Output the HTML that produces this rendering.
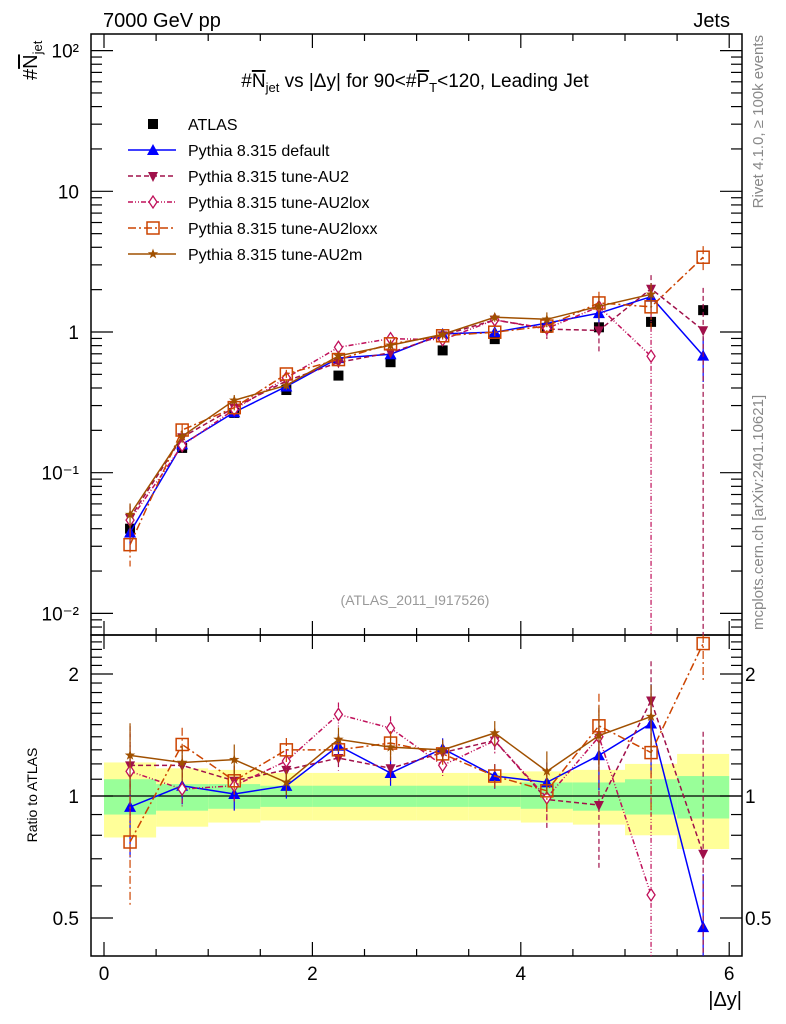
<!DOCTYPE html>
<html><head><meta charset="utf-8">
<style>
body{margin:0;background:#fff;}
svg{display:block;font-family:"Liberation Sans",sans-serif;}
</style></head>
<body>
<svg id="chart" width="786" height="1024" viewBox="0 0 786 1024" xmlns="http://www.w3.org/2000/svg">
<g id="bands"></g>
<g id="axes"></g>
<g id="series"></g>
<text x="103" y="27" font-size="20">7000 GeV pp</text>
<text x="730" y="27" font-size="20" text-anchor="end">Jets</text>
<text x="415" y="87" font-size="19" text-anchor="middle">#<tspan text-decoration="overline">N</tspan><tspan font-size="13" dy="5">jet</tspan><tspan dy="-5"> vs |Δy| for 90&lt;#</tspan><tspan text-decoration="overline">P</tspan><tspan font-size="13" dy="5">T</tspan><tspan dy="-5">&lt;120, Leading Jet</tspan></text>
<text x="415" y="605" font-size="14" fill="#999" text-anchor="middle">(ATLAS_2011_I917526)</text>
<text transform="translate(763,35) rotate(-90)" font-size="15" fill="#888" text-anchor="end">Rivet 4.1.0, ≥ 100k events</text>
<text transform="translate(763,630) rotate(-90)" font-size="15" fill="#888">mcplots.cern.ch [arXiv:2401.10621]</text>
<text transform="translate(37,80) rotate(-90)" font-size="20">#<tspan text-decoration="overline">N</tspan><tspan font-size="13" dy="5">jet</tspan></text>
<text transform="translate(37,795) rotate(-90)" font-size="14" text-anchor="middle">Ratio to ATLAS</text>
<text x="742" y="1006" font-size="20" text-anchor="end">|Δy|</text>
<g id="legend"></g>
</svg>
<script>
const xCenters = [0.25,0.75,1.25,1.75,2.25,2.75,3.25,3.75,4.25,4.75,5.25,5.75];
const atlas = [0.040,0.150,0.266,0.387,0.49,0.61,0.74,0.89,1.07,1.08,1.18,1.43];
const atlasErr = [0.002,0.005,0.008,0.01,0.012,0.015,0.02,0.025,0.04,0.05,0.08,0.12];
const pyDefault = [0.0376,0.159,0.269,0.410,0.652,0.695,0.969,0.997,1.156,1.361,1.782,0.679];
const pyAU2 = [0.0476,0.1785,0.290,0.449,0.608,0.714,0.947,1.219,1.049,1.026,2.03,1.03];
const pyAU2lox = [0.046,0.156,0.282,0.472,0.779,0.897,0.881,1.219,1.059,1.512,0.673,null];
const pyAU2loxx = [0.0308,0.201,0.290,0.503,0.637,0.824,0.940,0.997,1.102,1.609,1.51,3.40];
const pyAU2m = [0.0504,0.1815,0.327,0.418,0.676,0.805,0.962,1.273,1.231,1.523,1.853,null];
const errDefault = [0.25,0.1,0.09,0.07,0.07,0.07,0.06,0.07,0.12,0.18,0.25,0.35];
const errAU2 = [0.25,0.1,0.09,0.07,0.07,0.07,0.06,0.07,0.15,0.3,0.25,1.0];
const errLox = [0.25,0.1,0.09,0.07,0.07,0.07,0.06,0.07,0.12,0.18,1.0,0.3];
const errLoxx = [0.3,0.1,0.09,0.07,0.07,0.07,0.06,0.07,0.12,0.2,0.3,0.2];
const errM = [0.2,0.1,0.09,0.07,0.07,0.07,0.06,0.07,0.12,0.18,0.2,0.3];
const yellowHi = [1.21,1.17,1.16,1.14,1.14,1.14,1.14,1.14,1.15,1.16,1.20,1.27];
const yellowLo = [0.79,0.84,0.86,0.87,0.87,0.87,0.87,0.87,0.86,0.85,0.80,0.74];
const greenHi = [1.10,1.07,1.07,1.06,1.06,1.06,1.06,1.06,1.08,1.08,1.10,1.12];
const greenLo = [0.90,0.92,0.93,0.94,0.94,0.94,0.94,0.94,0.93,0.92,0.90,0.88];
const xTicks = [0,2,4,6];
const mainTicks = [0.01,0.1,1,10,100];
const mainTickLabels = ["10⁻²","10⁻¹","1","10","10²"];
const ratioTicks = [0.5,1,2];
const ratioTickLabels = ["0.5","1","2"];

const NS="http://www.w3.org/2000/svg";
const L=91,R=742,T=34,M=635,B=956;
const X=v=>104+v*104.2;
const Y=v=>332-140.7*Math.log10(v);
const YR=r=>796-122*Math.log2(r);
function mk(parent,tag,attrs){const e=document.createElementNS(NS,tag);for(const k in attrs)e.setAttribute(k,attrs[k]);parent.appendChild(e);return e;}
const bands=document.getElementById('bands'),axes=document.getElementById('axes'),ser=document.getElementById('series'),leg=document.getElementById('legend');

xCenters.forEach((c,i)=>{
  const x0=Math.max(L,X(c-0.25)),x1=X(c+0.25);
  const y=mk(bands,'rect',{x:x0,y:YR(yellowHi[i]),width:x1-x0,height:YR(yellowLo[i])-YR(yellowHi[i]),fill:'#ffff99'});
  
  
  const g=mk(bands,'rect',{x:x0,y:YR(greenHi[i]),width:x1-x0,height:YR(greenLo[i])-YR(greenHi[i]),fill:'#99ff99'});
  
  
});
mk(axes,'line',{x1:L,x2:R,y1:YR(1),y2:YR(1),stroke:'#000','stroke-width':1.2});

mk(axes,'rect',{x:L,y:T,width:R-L,height:M-T,fill:'none',stroke:'#000','stroke-width':1.5});
mk(axes,'rect',{x:L,y:M,width:R-L,height:B-M,fill:'none',stroke:'#000','stroke-width':1.5});
for(let v=0;v<=6.01;v+=0.5){
  const maj=Math.abs(v-Math.round(v/2)*2)<1e-6;const len=maj?14:7;
  [[T,1],[M,-1],[M,1],[B,-1]].forEach(([y0,d])=>mk(axes,'line',{x1:X(v),x2:X(v),y1:y0,y2:y0+d*len,stroke:'#000','stroke-width':1.2}));
}
xTicks.forEach(v=>{const t=mk(axes,'text',{x:X(v),y:980,'font-size':19,'text-anchor':'middle'});t.textContent=v;

});
for(let e=-3;e<=2;e++){for(let m=1;m<10;m++){const v=m*Math.pow(10,e);const y=Y(v);if(y<T||y>M)continue;const len=m==1?22:11;
mk(axes,'line',{x1:L,x2:L+len,y1:y,y2:y,stroke:'#000','stroke-width':1.2});mk(axes,'line',{x1:R,x2:R-len,y1:y,y2:y,stroke:'#000','stroke-width':1.2});}}
mainTicks.forEach((v,i)=>{const t=mk(axes,'text',{x:L-12,y:Y(v)+7,'font-size':19,'text-anchor':'end'});t.textContent=mainTickLabels[i];

});
for(let v=0.4;v<=2.51;v+=0.1){const y=YR(v);if(y<M||y>B)continue;const maj=ratioTicks.some(r=>Math.abs(r-v)<1e-6);const len=maj?22:11;
mk(axes,'line',{x1:L,x2:L+len,y1:y,y2:y,stroke:'#000','stroke-width':1.2});mk(axes,'line',{x1:R,x2:R-len,y1:y,y2:y,stroke:'#000','stroke-width':1.2});}
ratioTicks.forEach((v,i)=>{const t=mk(axes,'text',{x:L-12,y:YR(v)+7,'font-size':19,'text-anchor':'end'});t.textContent=ratioTickLabels[i];


const t2=mk(axes,'text',{x:R+3,y:YR(v)+7,'font-size':19});t2.textContent=ratioTickLabels[i];

});

function marker(g,type,x,y,col){
  const s=5;
  if(type==='sq')return mk(g,'rect',{x:x-s,y:y-s,width:2*s,height:2*s,fill:col});
  if(type==='tri')return mk(g,'polygon',{points:`${x},${y-6} ${x-6},${y+5} ${x+6},${y+5}`,fill:col});
  if(type==='tridn')return mk(g,'polygon',{points:`${x},${y+6} ${x-5},${y-4} ${x+5},${y-4}`,fill:col});
  if(type==='dia')return mk(g,'polygon',{points:`${x},${y-6} ${x-4},${y} ${x},${y+6} ${x+4},${y}`,fill:'#fff',stroke:col,'stroke-width':1.3});
  if(type==='osq')return mk(g,'rect',{x:x-6,y:y-6,width:12,height:12,fill:'none',stroke:col,'stroke-width':1.5});
  if(type==='star'){let p=[];for(let k=0;k<10;k++){const r=k%2?2.2:5.5,a=-Math.PI/2+k*Math.PI/5;p.push((x+r*Math.cos(a)).toFixed(1)+','+(y+r*Math.sin(a)).toFixed(1));}return mk(g,'polygon',{points:p.join(' '),fill:col});}
}
const series=[
 {name:'pythia-default',vals:pyDefault,err:errDefault,col:'#0000ff',dash:'',mk:'tri',label:'Pythia 8.315 default'},
 {name:'pythia-au2',vals:pyAU2,err:errAU2,col:'#a0104a',dash:'5,3',mk:'tridn',label:'Pythia 8.315 tune-AU2'},
 {name:'pythia-au2lox',vals:pyAU2lox,err:errLox,col:'#c0105a',dash:'5,2,1,2,1,2',mk:'dia',label:'Pythia 8.315 tune-AU2lox'},
 {name:'pythia-au2loxx',vals:pyAU2loxx,err:errLoxx,col:'#cc4400',dash:'8,3,2,3',mk:'osq',label:'Pythia 8.315 tune-AU2loxx'},
 {name:'pythia-au2m',vals:pyAU2m,err:errM,col:'#a05000',dash:'',mk:'star',label:'Pythia 8.315 tune-AU2m'}
];
function clampY(y,top,bot){return Math.max(top,Math.min(bot,y));}
const ga=mk(ser,'g',{});


xCenters.forEach((c,i)=>{
  mk(ga,'line',{x1:X(c),x2:X(c),y1:Y(atlas[i]+atlasErr[i]),y2:Y(atlas[i]-atlasErr[i]),stroke:'#000','stroke-width':1.2});
  const m=marker(ga,'sq',X(c),Y(atlas[i]),'#000');
  
  
});
series.forEach(s=>{
  const g=mk(ser,'g',{});
  
  
  let pm=[],pr=[];
  xCenters.forEach((c,i)=>{const v=s.vals[i];if(v==null)return;
    const r=v/atlas[i];const e=s.err[i];
    pm.push(X(c)+','+Y(v));pr.push(X(c)+','+clampY(YR(r),M,B));
    const lo=Math.max(v*(1-e),1e-4);
    mk(g,'line',{x1:X(c),x2:X(c),y1:clampY(Y(v*(1+e)),T,M),y2:clampY(Y(lo),T,M),stroke:s.col,'stroke-width':1.2,'stroke-dasharray':s.dash});
    mk(g,'line',{x1:X(c),x2:X(c),y1:clampY(YR(r*(1+e)),M,B),y2:clampY(YR(Math.max(r*(1-e),0.01)),M,B),stroke:s.col,'stroke-width':1.2,'stroke-dasharray':s.dash});
  });
  mk(g,'polyline',{points:pm.join(' '),fill:'none',stroke:s.col,'stroke-width':1.5,'stroke-dasharray':s.dash});
  mk(g,'polyline',{points:pr.join(' '),fill:'none',stroke:s.col,'stroke-width':1.5,'stroke-dasharray':s.dash});
  xCenters.forEach((c,i)=>{const v=s.vals[i];if(v==null)return;
    const a=marker(g,s.mk,X(c),Y(v),s.col);
    
    
    const ry=YR(v/atlas[i]);if(ry>=M&&ry<=B){const b=marker(g,s.mk,X(c),ry,s.col);
    
    }
  });
});
const ly=[124,150,176,202,228,254];
const e0=mk(leg,'g',{});


marker(e0,'sq',153,ly[0],'#000');
const t0=mk(e0,'text',{x:188,y:ly[0]+6,'font-size':16});t0.textContent='ATLAS';
series.forEach((s,k)=>{
  const e=mk(leg,'g',{});
  
  
  const y=ly[k+1];
  mk(e,'line',{x1:128,x2:176,y1:y,y2:y,stroke:s.col,'stroke-width':1.5,'stroke-dasharray':s.dash});
  marker(e,s.mk,153,y,s.col);
  const t=mk(e,'text',{x:188,y:y+6,'font-size':16});t.textContent=s.label;
});
</script>
</body></html>
